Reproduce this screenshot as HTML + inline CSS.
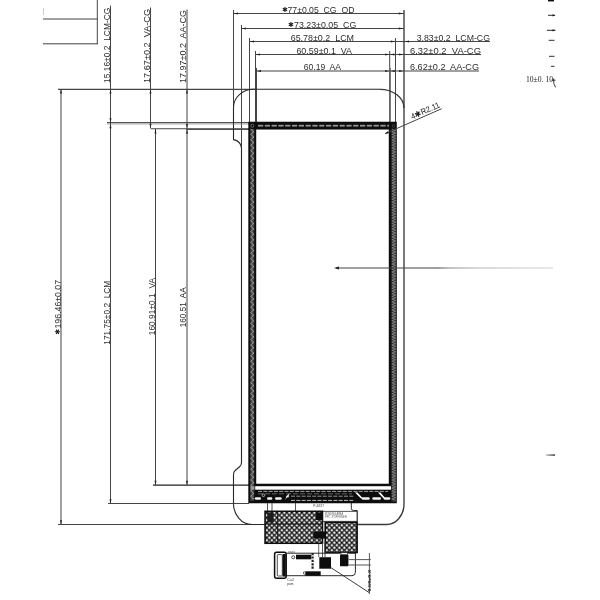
<!DOCTYPE html>
<html lang="en"><head><meta charset="utf-8"><title>LCM outline drawing</title>
<style>
text{white-space:pre;}
html,body{margin:0;padding:0;background:#fff;}
body{width:600px;height:600px;overflow:hidden;font-family:"Liberation Sans",sans-serif;}
svg{display:block;}
</style></head><body>
<svg width="600" height="600" viewBox="0 0 600 600">
<defs>
<pattern id="hatch" width="5" height="5" patternUnits="userSpaceOnUse" patternTransform="translate(1.8,2.7)">
<rect width="5" height="5" fill="#fff"/>
<path d="M-1,-1 L6,6 M6,-1 L-1,6" stroke="#111" stroke-width="1.3" fill="none"/>
</pattern>
<linearGradient id="fade" gradientUnits="userSpaceOnUse" x1="436" x2="553" y1="0" y2="0">
<stop offset="0" stop-color="#333"/><stop offset="0.12" stop-color="#888"/><stop offset="0.35" stop-color="#b4b4b4"/><stop offset="1" stop-color="#d2d2d2"/>
</linearGradient>
<linearGradient id="fade2" x1="0" x2="1" y1="0" y2="0">
<stop offset="0" stop-color="#bbb"/><stop offset="1" stop-color="#111"/>
</linearGradient>
<filter id="soft" x="-5%" y="-5%" width="110%" height="110%"><feGaussianBlur stdDeviation="0.35"/></filter>
</defs>
<rect width="600" height="600" fill="#fff"/>
<g filter="url(#soft)">

<line x1="43" y1="19" x2="97.5" y2="19" stroke="#444" stroke-width="1" />
<line x1="43" y1="43.8" x2="97.5" y2="43.8" stroke="#444" stroke-width="1" />
<line x1="97.3" y1="0" x2="97.3" y2="44.3" stroke="#444" stroke-width="1" />
<line x1="43.5" y1="8" x2="43.5" y2="15" stroke="#ccc" stroke-width="1" />
<line x1="58" y1="89.3" x2="256" y2="89.3" stroke="#444" stroke-width="1.15" />
<line x1="107" y1="122.5" x2="249" y2="122.5" stroke="#333" stroke-width="0.85" />
<line x1="107" y1="123.9" x2="249" y2="123.9" stroke="#666" stroke-width="0.7" />
<line x1="151" y1="128.7" x2="256" y2="128.7" stroke="#444" stroke-width="1.15" />
<line x1="186" y1="129.4" x2="256" y2="129.4" stroke="#444" stroke-width="1" />
<line x1="153" y1="485" x2="249" y2="485" stroke="#222" stroke-width="1.25" />
<line x1="108" y1="503.5" x2="249" y2="503.5" stroke="#444" stroke-width="1" />
<line x1="58" y1="524.5" x2="265" y2="524.5" stroke="#444" stroke-width="1" />
<line x1="61" y1="89.3" x2="61" y2="524.5" stroke="#444" stroke-width="1" />
<polygon points="61,89.3 60.0,93.5 62.0,93.5" fill="#222"/>
<polygon points="61,524.5 60.0,520.3 62.0,520.3" fill="#222"/>
<line x1="110.5" y1="5.5" x2="110.5" y2="503.5" stroke="#444" stroke-width="1" />
<polygon points="110.5,89.3 109.5,93.5 111.5,93.5" fill="#222"/>
<polygon points="110.5,122.5 109.5,118.3 111.5,118.3" fill="#222"/>
<polygon points="110.5,124 109.5,128.2 111.5,128.2" fill="#222"/>
<polygon points="110.5,503.5 109.5,499.3 111.5,499.3" fill="#222"/>
<line x1="150.5" y1="7.5" x2="150.5" y2="128.5" stroke="#444" stroke-width="1" />
<polygon points="150.5,89.3 149.5,93.5 151.5,93.5" fill="#222"/>
<polygon points="150.5,128 149.5,123.8 151.5,123.8" fill="#222"/>
<line x1="155.5" y1="129" x2="155.5" y2="485" stroke="#444" stroke-width="1" />
<polygon points="155.5,129.3 154.5,133.5 156.5,133.5" fill="#222"/>
<polygon points="155.5,485 154.5,480.8 156.5,480.8" fill="#222"/>
<line x1="187" y1="9.5" x2="187" y2="485" stroke="#444" stroke-width="1" />
<polygon points="187,89.3 186.0,93.5 188.0,93.5" fill="#222"/>
<polygon points="187,128.3 186.0,124.10000000000001 188.0,124.10000000000001" fill="#222"/>
<polygon points="187,129.5 186.0,133.7 188.0,133.7" fill="#222"/>
<polygon points="187,485 186.0,480.8 188.0,480.8" fill="#222"/>
<text transform="translate(109.8,83) rotate(-90)" font-size="9.2" textLength="75.4" lengthAdjust="spacingAndGlyphs" fill="#2e2e2e" font-family="'Liberation Sans', sans-serif" xml:space="preserve" >15.16±0.2  LCM-CG</text>
<text transform="translate(149.8,83) rotate(-90)" font-size="9.2" textLength="74" lengthAdjust="spacingAndGlyphs" fill="#2e2e2e" font-family="'Liberation Sans', sans-serif" xml:space="preserve" >17.67±0.2  VA-CG</text>
<text transform="translate(185.8,83) rotate(-90)" font-size="9.2" textLength="73" lengthAdjust="spacingAndGlyphs" fill="#2e2e2e" font-family="'Liberation Sans', sans-serif" xml:space="preserve" >17.97±0.2  AA-CG</text>
<text transform="translate(57.7,331.9) rotate(-90)" x="0" y="2.52" text-anchor="middle" font-size="7" fill="#1a1a1a" font-family="'DejaVu Sans', 'Liberation Sans', sans-serif">✱</text>
<text transform="translate(60.6,328.5) rotate(-90)" font-size="8.3" textLength="48.6" lengthAdjust="spacingAndGlyphs" fill="#2e2e2e" font-family="'Liberation Sans', sans-serif" xml:space="preserve" >196.46±0.07</text>
<text transform="translate(109.9,344.7) rotate(-90)" font-size="9.2" textLength="64.0" lengthAdjust="spacingAndGlyphs" fill="#2e2e2e" font-family="'Liberation Sans', sans-serif" xml:space="preserve" >171.75±0.2  LCM</text>
<text transform="translate(154.8,335.3) rotate(-90)" font-size="9.2" textLength="57.3" lengthAdjust="spacingAndGlyphs" fill="#2e2e2e" font-family="'Liberation Sans', sans-serif" xml:space="preserve" >160.91±0.1  VA</text>
<text transform="translate(185.6,327.3) rotate(-90)" font-size="9.2" textLength="40.0" lengthAdjust="spacingAndGlyphs" fill="#2e2e2e" font-family="'Liberation Sans', sans-serif" xml:space="preserve" >160.51  AA</text>
<line x1="233.5" y1="13.5" x2="404" y2="13.5" stroke="#444" stroke-width="1" />
<polygon points="233.8,13.5 238.0,12.5 238.0,14.5" fill="#222"/>
<polygon points="403,13.5 398.8,12.5 398.8,14.5" fill="#222"/>
<line x1="241.5" y1="28.5" x2="404" y2="28.5" stroke="#444" stroke-width="1" />
<polygon points="241.8,28.5 246.0,27.5 246.0,29.5" fill="#222"/>
<polygon points="403,28.5 398.8,27.5 398.8,29.5" fill="#222"/>
<line x1="249.5" y1="41.5" x2="490" y2="41.5" stroke="#444" stroke-width="1" />
<polygon points="249.8,41.5 254.0,40.5 254.0,42.5" fill="#222"/>
<polygon points="395,41.5 390.8,40.5 390.8,42.5" fill="#222"/>
<polygon points="404.8,41.5 409.0,40.5 409.0,42.5" fill="#222"/>
<line x1="255.5" y1="54.5" x2="481" y2="54.5" stroke="#444" stroke-width="1" />
<polygon points="255.8,54.5 260.0,53.5 260.0,55.5" fill="#222"/>
<polygon points="389.3,54.5 385.1,53.5 385.1,55.5" fill="#222"/>
<polygon points="390.2,54.5 394.4,53.5 394.4,55.5" fill="#222"/>
<polygon points="403.3,54.5 399.1,53.5 399.1,55.5" fill="#222"/>
<line x1="256" y1="71" x2="479" y2="71" stroke="#444" stroke-width="1.15" />
<polygon points="256.8,71 261.0,70.0 261.0,72.0" fill="#222"/>
<polygon points="389.3,71 385.1,70.0 385.1,72.0" fill="#222"/>
<polygon points="390.6,71 394.8,70.0 394.8,72.0" fill="#222"/>
<polygon points="403.3,71 399.1,70.0 399.1,72.0" fill="#222"/>
<text transform="translate(284.9,9.4) rotate(0)" x="0" y="2.52" text-anchor="middle" font-size="7" fill="#1a1a1a" font-family="'DejaVu Sans', 'Liberation Sans', sans-serif">✱</text>
<text x="287.5" y="12.7" font-size="9.2" textLength="66.9" lengthAdjust="spacingAndGlyphs" fill="#2e2e2e" font-family="'Liberation Sans', sans-serif" xml:space="preserve" >77±0.05  CG  OD</text>
<text transform="translate(291,24.7) rotate(0)" x="0" y="2.52" text-anchor="middle" font-size="7" fill="#1a1a1a" font-family="'DejaVu Sans', 'Liberation Sans', sans-serif">✱</text>
<text x="294" y="27.7" font-size="9.2" textLength="62.3" lengthAdjust="spacingAndGlyphs" fill="#2e2e2e" font-family="'Liberation Sans', sans-serif" xml:space="preserve" >73.23±0.05  CG</text>
<text x="290.7" y="40.6" font-size="9.2" textLength="63.3" lengthAdjust="spacingAndGlyphs" fill="#2e2e2e" font-family="'Liberation Sans', sans-serif" xml:space="preserve" >65.78±0.2  LCM</text>
<text x="296.4" y="53.6" font-size="9.2" textLength="55.6" lengthAdjust="spacingAndGlyphs" fill="#2e2e2e" font-family="'Liberation Sans', sans-serif" xml:space="preserve" >60.59±0.1  VA</text>
<text x="303.8" y="70" font-size="9.2" textLength="37.2" lengthAdjust="spacingAndGlyphs" fill="#2e2e2e" font-family="'Liberation Sans', sans-serif" xml:space="preserve" >60.19  AA</text>
<text x="416.7" y="40.6" font-size="9.2" textLength="73.3" lengthAdjust="spacingAndGlyphs" fill="#2e2e2e" font-family="'Liberation Sans', sans-serif" xml:space="preserve" >3.83±0.2  LCM-CG</text>
<text x="410" y="53.6" font-size="9.2" textLength="71" lengthAdjust="spacingAndGlyphs" fill="#2e2e2e" font-family="'Liberation Sans', sans-serif" xml:space="preserve" >6.32±0.2  VA-CG</text>
<text x="410" y="70" font-size="9.2" textLength="69" lengthAdjust="spacingAndGlyphs" fill="#2e2e2e" font-family="'Liberation Sans', sans-serif" xml:space="preserve" >6.62±0.2  AA-CG</text>
<line x1="233.5" y1="10" x2="233.5" y2="108" stroke="#444" stroke-width="1" />
<line x1="241.5" y1="25" x2="241.5" y2="148" stroke="#444" stroke-width="1" />
<line x1="249.5" y1="38" x2="249.5" y2="122" stroke="#444" stroke-width="1" />
<line x1="255.5" y1="51" x2="255.5" y2="122" stroke="#444" stroke-width="1" />
<line x1="256.5" y1="68" x2="256.5" y2="122" stroke="#444" stroke-width="1" />
<line x1="389.7" y1="51" x2="389.7" y2="122" stroke="#444" stroke-width="1" />
<line x1="390.4" y1="68" x2="390.4" y2="122" stroke="#444" stroke-width="0.7" />
<line x1="395.5" y1="38" x2="395.5" y2="122" stroke="#444" stroke-width="1" />
<line x1="404" y1="10" x2="404" y2="108" stroke="#3a3a3a" stroke-width="1.35" />
<path d="M265,524.5 L252,524.5 A18.5,21 0 0 1 233.5,503.5 L233.5,474.5 Q233.5,472 235.2,470.5 L239.8,466.5 Q241.5,465 241.5,462.5 L241.5,148 Q240.8,141 233.5,139.6 L233.5,107.5 A20.2,18.2 0 0 1 253.7,89.3 L380,89.3" fill="none" stroke="#2a2a2a" stroke-width="1.1"/>
<path d="M380,89.3 A24,18.7 0 0 1 404,108 L404,504 A17.5,20.5 0 0 1 386.5,524.5 L357.5,524.5" fill="none" stroke="#3a3a3a" stroke-width="1.35"/>
<path fill-rule="evenodd" fill="#0c0c0c" d="M248.3,121.8 H396.8 V503.3 H248.3 Z M256.2,129.6 H388.8 V483.8 H256.2 Z"/>
<rect x="250.2" y="129" width="4.2" height="372" fill="#3a3a3a"/>
<polyline points="250.6,129 254,131.7 250.6,134.4 254,137.1 250.6,139.8 254,142.5 250.6,145.2 254,147.9 250.6,150.6 254,153.3 250.6,156.0 254,158.7 250.6,161.4 254,164.1 250.6,166.8 254,169.5 250.6,172.2 254,174.9 250.6,177.6 254,180.3 250.6,183.0 254,185.7 250.6,188.4 254,191.1 250.6,193.8 254,196.5 250.6,199.2 254,201.9 250.6,204.6 254,207.3 250.6,210.0 254,212.7 250.6,215.4 254,218.1 250.6,220.8 254,223.5 250.6,226.2 254,228.9 250.6,231.6 254,234.3 250.6,237.0 254,239.7 250.6,242.4 254,245.1 250.6,247.8 254,250.5 250.6,253.2 254,255.9 250.6,258.6 254,261.3 250.6,264.0 254,266.7 250.6,269.4 254,272.1 250.6,274.8 254,277.5 250.6,280.2 254,282.9 250.6,285.6 254,288.3 250.6,291.0 254,293.7 250.6,296.4 254,299.1 250.6,301.8 254,304.5 250.6,307.2 254,309.9 250.6,312.6 254,315.3 250.6,318.0 254,320.7 250.6,323.4 254,326.1 250.6,328.8 254,331.5 250.6,334.2 254,336.9 250.6,339.6 254,342.3 250.6,345.0 254,347.7 250.6,350.4 254,353.1 250.6,355.8 254,358.5 250.6,361.2 254,363.9 250.6,366.6 254,369.3 250.6,372.0 254,374.7 250.6,377.4 254,380.1 250.6,382.8 254,385.5 250.6,388.2 254,390.9 250.6,393.6 254,396.3 250.6,399.0 254,401.7 250.6,404.4 254,407.1 250.6,409.8 254,412.5 250.6,415.2 254,417.9 250.6,420.6 254,423.3 250.6,426.0 254,428.7 250.6,431.4 254,434.1 250.6,436.8 254,439.5 250.6,442.2 254,444.9 250.6,447.6 254,450.3 250.6,453.0 254,455.7 250.6,458.4 254,461.1 250.6,463.8 254,466.5 250.6,469.2 254,471.9 250.6,474.6 254,477.3 250.6,480.0 254,482.7 250.6,485.4 254,488.1 250.6,490.8 254,493.5 250.6,496.2 254,498.9" fill="none" stroke="#9a9a9a" stroke-width="1" stroke-linejoin="miter"/>
<circle cx="252.3" cy="125.8" r="1.5" fill="none" stroke="#777" stroke-width="0.8"/>
<circle cx="393.5" cy="125.8" r="1.3" fill="none" stroke="#555" stroke-width="0.7"/>
<line x1="252.3" y1="129" x2="252.3" y2="501" stroke="#777" stroke-width="1" stroke-dasharray="3.6 1.8"/>
<rect x="391.4" y="129" width="4.7" height="373" fill="#2e2e2e"/>
<polyline points="391.8,129 395.7,130.35 391.8,131.7 395.7,133.05 391.8,134.4 395.7,135.75 391.8,137.1 395.7,138.45 391.8,139.8 395.7,141.15 391.8,142.5 395.7,143.85 391.8,145.2 395.7,146.55 391.8,147.9 395.7,149.25 391.8,150.6 395.7,151.95 391.8,153.3 395.7,154.65 391.8,156.0 395.7,157.35 391.8,158.7 395.7,160.05 391.8,161.4 395.7,162.75 391.8,164.1 395.7,165.45 391.8,166.8 395.7,168.15 391.8,169.5 395.7,170.85 391.8,172.2 395.7,173.55 391.8,174.9 395.7,176.25 391.8,177.6 395.7,178.95 391.8,180.3 395.7,181.65 391.8,183.0 395.7,184.35 391.8,185.7 395.7,187.05 391.8,188.4 395.7,189.75 391.8,191.1 395.7,192.45 391.8,193.8 395.7,195.15 391.8,196.5 395.7,197.85 391.8,199.2 395.7,200.55 391.8,201.9 395.7,203.25 391.8,204.6 395.7,205.95 391.8,207.3 395.7,208.65 391.8,210.0 395.7,211.35 391.8,212.7 395.7,214.05 391.8,215.4 395.7,216.75 391.8,218.1 395.7,219.45 391.8,220.8 395.7,222.15 391.8,223.5 395.7,224.85 391.8,226.2 395.7,227.55 391.8,228.9 395.7,230.25 391.8,231.6 395.7,232.95 391.8,234.3 395.7,235.65 391.8,237.0 395.7,238.35 391.8,239.7 395.7,241.05 391.8,242.4 395.7,243.75 391.8,245.1 395.7,246.45 391.8,247.8 395.7,249.15 391.8,250.5 395.7,251.85 391.8,253.2 395.7,254.55 391.8,255.9 395.7,257.25 391.8,258.6 395.7,259.95 391.8,261.3 395.7,262.65 391.8,264.0 395.7,265.35 391.8,266.7 395.7,268.05 391.8,269.4 395.7,270.75 391.8,272.1 395.7,273.45 391.8,274.8 395.7,276.15 391.8,277.5 395.7,278.85 391.8,280.2 395.7,281.55 391.8,282.9 395.7,284.25 391.8,285.6 395.7,286.95 391.8,288.3 395.7,289.65 391.8,291.0 395.7,292.35 391.8,293.7 395.7,295.05 391.8,296.4 395.7,297.75 391.8,299.1 395.7,300.45 391.8,301.8 395.7,303.15 391.8,304.5 395.7,305.85 391.8,307.2 395.7,308.55 391.8,309.9 395.7,311.25 391.8,312.6 395.7,313.95 391.8,315.3 395.7,316.65 391.8,318.0 395.7,319.35 391.8,320.7 395.7,322.05 391.8,323.4 395.7,324.75 391.8,326.1 395.7,327.45 391.8,328.8 395.7,330.15 391.8,331.5 395.7,332.85 391.8,334.2 395.7,335.55 391.8,336.9 395.7,338.25 391.8,339.6 395.7,340.95 391.8,342.3 395.7,343.65 391.8,345.0 395.7,346.35 391.8,347.7 395.7,349.05 391.8,350.4 395.7,351.75 391.8,353.1 395.7,354.45 391.8,355.8 395.7,357.15 391.8,358.5 395.7,359.85 391.8,361.2 395.7,362.55 391.8,363.9 395.7,365.25 391.8,366.6 395.7,367.95 391.8,369.3 395.7,370.65 391.8,372.0 395.7,373.35 391.8,374.7 395.7,376.05 391.8,377.4 395.7,378.75 391.8,380.1 395.7,381.45 391.8,382.8 395.7,384.15 391.8,385.5 395.7,386.85 391.8,388.2 395.7,389.55 391.8,390.9 395.7,392.25 391.8,393.6 395.7,394.95 391.8,396.3 395.7,397.65 391.8,399.0 395.7,400.35 391.8,401.7 395.7,403.05 391.8,404.4 395.7,405.75 391.8,407.1 395.7,408.45 391.8,409.8 395.7,411.15 391.8,412.5 395.7,413.85 391.8,415.2 395.7,416.55 391.8,417.9 395.7,419.25 391.8,420.6 395.7,421.95 391.8,423.3 395.7,424.65 391.8,426.0 395.7,427.35 391.8,428.7 395.7,430.05 391.8,431.4 395.7,432.75 391.8,434.1 395.7,435.45 391.8,436.8 395.7,438.15 391.8,439.5 395.7,440.85 391.8,442.2 395.7,443.55 391.8,444.9 395.7,446.25 391.8,447.6 395.7,448.95 391.8,450.3 395.7,451.65 391.8,453.0 395.7,454.35 391.8,455.7 395.7,457.05 391.8,458.4 395.7,459.75 391.8,461.1 395.7,462.45 391.8,463.8 395.7,465.15 391.8,466.5 395.7,467.85 391.8,469.2 395.7,470.55 391.8,471.9 395.7,473.25 391.8,474.6 395.7,475.95 391.8,477.3 395.7,478.65 391.8,480.0 395.7,481.35 391.8,482.7 395.7,484.05 391.8,485.4 395.7,486.75 391.8,488.1 395.7,489.45 391.8,490.8 395.7,492.15 391.8,493.5 395.7,494.85 391.8,496.2 395.7,497.55 391.8,498.9 395.7,500.25" fill="none" stroke="#868686" stroke-width="0.9" stroke-linejoin="miter"/>
<line x1="258" y1="125.4" x2="389" y2="125.4" stroke="#777" stroke-width="1.3" stroke-dasharray="5.2 1.6"/>
<line x1="258" y1="126.1" x2="389" y2="126.1" stroke="#eee" stroke-width="0.6" stroke-dasharray="5.2 1.6"/>
<rect x="255.2" y="486.2" width="135.8" height="3.5" fill="#fff"/>
<rect x="250.5" y="486.2" width="4" height="3.5" fill="#999"/>
<line x1="258" y1="491.4" x2="388" y2="491.4" stroke="#b0b0b0" stroke-width="0.9" stroke-dasharray="4 1.3"/>
<line x1="258" y1="493.8" x2="352" y2="493.8" stroke="#777" stroke-width="0.8" stroke-dasharray="5 2"/>
<line x1="291" y1="496.2" x2="354" y2="496.2" stroke="#a5a5a5" stroke-width="0.9" stroke-dasharray="4 1.3"/>
<line x1="291" y1="500.4" x2="354" y2="500.4" stroke="#d0d0d0" stroke-width="0.9" stroke-dasharray="4 1.3"/>
<rect x="254.8" y="497.2" width="6.2" height="2.5" rx="1.25" fill="#f4f4f4"/>
<rect x="267" y="497.2" width="5.3" height="2.5" rx="1.25" fill="#f4f4f4"/>
<rect x="275" y="497.2" width="6.7" height="2.5" rx="1.25" fill="#f4f4f4"/>
<rect x="361.7" y="497.2" width="8.0" height="2.5" rx="1.25" fill="#f4f4f4"/>
<rect x="372.3" y="497.2" width="8.7" height="2.5" rx="1.25" fill="#f4f4f4"/>
<rect x="383.7" y="497.2" width="6.6" height="2.5" rx="1.25" fill="#f4f4f4"/>
<circle cx="263.4" cy="495.3" r="1.3" fill="none" stroke="#ddd" stroke-width="0.7"/>
<path d="M285.2,500 L286.5,496 L289.6,493.4 L288.4,496.4 L289.8,497 L286.8,497.6 Z" fill="#fff"/>
<path d="M355,492.5 L357.5,492.5 L363,498.6 L361,498.6 Z M378,492.5 L380.5,492.5 L385.5,498.6 L383.5,498.6 Z" fill="#fff"/>
<line x1="267.5" y1="503" x2="267.5" y2="511.5" stroke="#444" stroke-width="0.9" />
<line x1="272" y1="503" x2="272" y2="511.5" stroke="#444" stroke-width="0.9" />
<line x1="295.5" y1="503" x2="295.5" y2="511.5" stroke="#444" stroke-width="0.9" />
<path d="M351.3,503 V508.5 Q351.3,510.5 353.5,510.5 H357.2 V553" fill="none" stroke="#2a2a2a" stroke-width="1"/>
<text x="313.3" y="506.8" font-size="2.6" textLength="10.7" lengthAdjust="spacingAndGlyphs" fill="#444" font-family="'Liberation Sans', sans-serif" xml:space="preserve" >P-4837</text>
<rect x="322.5" y="511.3" width="34.5" height="10" fill="#fff" stroke="#2a2a2a" stroke-width="0.8"/>
<text x="325" y="515.2" font-size="2.8" textLength="18" lengthAdjust="spacingAndGlyphs" fill="#555" font-family="'Liberation Sans', sans-serif" xml:space="preserve" >BONDING AREA</text>
<text x="325" y="518.4" font-size="2.8" textLength="22" lengthAdjust="spacingAndGlyphs" fill="#666" font-family="'Liberation Sans', sans-serif" xml:space="preserve" >FPC STIFFENER</text>
<rect x="265" y="511.3" width="57.5" height="32" fill="url(#hatch)" stroke="#0c0c0c" stroke-width="1.5"/>
<line x1="277.5" y1="512" x2="277.5" y2="543" stroke="#111" stroke-width="0.8" />
<line x1="265" y1="524" x2="322.5" y2="524" stroke="#111" stroke-width="0.9" />
<rect x="267.3" y="512.4" width="6.2" height="10" fill="#1a1a1a"/>
<rect x="315.8" y="512.4" width="6.8" height="7.6" fill="#0a0a0a"/>
<rect x="325.2" y="522.3" width="31.8" height="30.2" fill="url(#hatch)" stroke="#0c0c0c" stroke-width="1.6"/>
<rect x="313.3" y="531.5" width="12.6" height="7" fill="#0a0a0a"/>
<line x1="322.5" y1="543" x2="322.5" y2="557" stroke="#444" stroke-width="0.9" />
<line x1="325" y1="543" x2="325" y2="557" stroke="#444" stroke-width="0.9" />
<line x1="318.7" y1="544" x2="318.7" y2="557" stroke="#444" stroke-width="0.8" />
<path d="M286.5,553.2 H340 M348.4,553.2 H355.4 M355.4,553 V572.2 Q355.4,575.7 352,575.7 H286.5" fill="none" stroke="#2a2a2a" stroke-width="1"/>
<rect x="274.6" y="552.3" width="11.6" height="26" rx="2" fill="#fff" stroke="#0c0c0c" stroke-width="1.5"/>
<rect x="277.3" y="554.6" width="5" height="21.4" rx="0.8" fill="#fff" stroke="#222" stroke-width="0.8"/>
<rect x="282.6" y="554" width="3.2" height="22.6" fill="#111"/>
<circle cx="293.3" cy="557.3" r="1.5" fill="#fff" stroke="#222" stroke-width="0.8"/>
<rect x="296" y="554.7" width="15.3" height="4.6" fill="#0a0a0a"/>
<rect x="319.3" y="557.2" width="11.7" height="11.5" fill="#0a0a0a"/>
<rect x="305.3" y="571.3" width="15.4" height="4.4" fill="#0a0a0a"/>
<circle cx="304.5" cy="573" r="1.2" fill="#fff" stroke="#222" stroke-width="0.7"/>
<rect x="340" y="554.6" width="8.4" height="11.6" rx="0.8" fill="#0a0a0a"/>
<rect x="341" y="552.7" width="6.5" height="2" fill="#fff" stroke="#222" stroke-width="0.7"/>
<line x1="312.6" y1="553" x2="312.6" y2="570" stroke="#222" stroke-width="2.2" stroke-dasharray="2.2 1.2"/>
<text x="288" y="552.6" font-size="2.6" textLength="7" lengthAdjust="spacingAndGlyphs" fill="#555" font-family="'Liberation Sans', sans-serif" xml:space="preserve" >xxxx</text>
<text x="287.3" y="580.8" font-size="3.6" textLength="6.7" lengthAdjust="spacingAndGlyphs" fill="#444" font-family="'Liberation Sans', sans-serif" xml:space="preserve" >Cu2</text>
<text x="287.3" y="584.8" font-size="2.8" textLength="6.2" lengthAdjust="spacingAndGlyphs" fill="#333" font-family="'Liberation Sans', sans-serif" xml:space="preserve" >pom</text>
<line x1="348.3" y1="559.6" x2="370.8" y2="559.6" stroke="#444" stroke-width="0.9" />
<line x1="348.3" y1="565" x2="370.8" y2="565" stroke="#444" stroke-width="0.9" />
<line x1="369.4" y1="553" x2="369.4" y2="594" stroke="#444" stroke-width="0.9" />
<line x1="330.7" y1="567.5" x2="369.3" y2="592.7" stroke="#333" stroke-width="0.95" />
<text transform="translate(370.8,591.5) rotate(-90)" font-size="4.2" textLength="21.5" lengthAdjust="spacingAndGlyphs" fill="#111" font-family="'Liberation Sans', sans-serif" xml:space="preserve" font-weight="bold">0.50±0.3</text>
<line x1="385" y1="133.7" x2="441.7" y2="108.7" stroke="#444" stroke-width="1" />
<path d="M385,133.7 l3.8,-0.4 l-0.9,-2 z" fill="#111"/>
<text transform="translate(412.2,119.4) rotate(-23.8)" font-size="8.2" textLength="31" lengthAdjust="spacingAndGlyphs" fill="#1a1a1a" font-family="'Liberation Sans', sans-serif">4✱R2.11</text>
<line x1="336" y1="268" x2="436" y2="268" stroke="#444" stroke-width="1" />
<line x1="436" y1="268" x2="553" y2="268" stroke="url(#fade)" stroke-width="1"/>
<polygon points="334,268 339,266.6 339,269.4" fill="#222"/>
<rect x="548" y="0" width="6" height="1.4" fill="#111"/>
<line x1="548" y1="15.3" x2="555" y2="15.3" stroke="#222" stroke-width="0.95" />
<line x1="547" y1="30.3" x2="555.5" y2="30.3" stroke="#222" stroke-width="0.95" />
<line x1="548.7" y1="40.3" x2="554.5" y2="40.3" stroke="#222" stroke-width="0.95" />
<line x1="549" y1="56.3" x2="554.5" y2="56.3" stroke="#222" stroke-width="0.95" />
<line x1="551" y1="66.3" x2="554.5" y2="66.3" stroke="#222" stroke-width="0.95" />
<polygon points="555.5,15.3 552.5,14.200000000000001 552.5,16.400000000000002" fill="#222"/>
<polygon points="555.5,30.3 552.5,29.2 552.5,31.400000000000002" fill="#222"/>
<text x="526" y="82" font-size="7.4" textLength="27" lengthAdjust="spacingAndGlyphs" fill="#222" font-family="'Liberation Serif', serif">10±0. 10</text>
<text x="519.5" y="82" font-size="7.4" fill="#ccc" font-family="'Liberation Serif', serif">.</text>
<path d="M551.5,80.2 H555.5 M553.6,78.5 Q553,84 555.6,87.4" fill="none" stroke="#222" stroke-width="0.9"/>
<rect x="546" y="454.4" width="9" height="1.3" fill="url(#fade2)"/>
</g></svg></body></html>
